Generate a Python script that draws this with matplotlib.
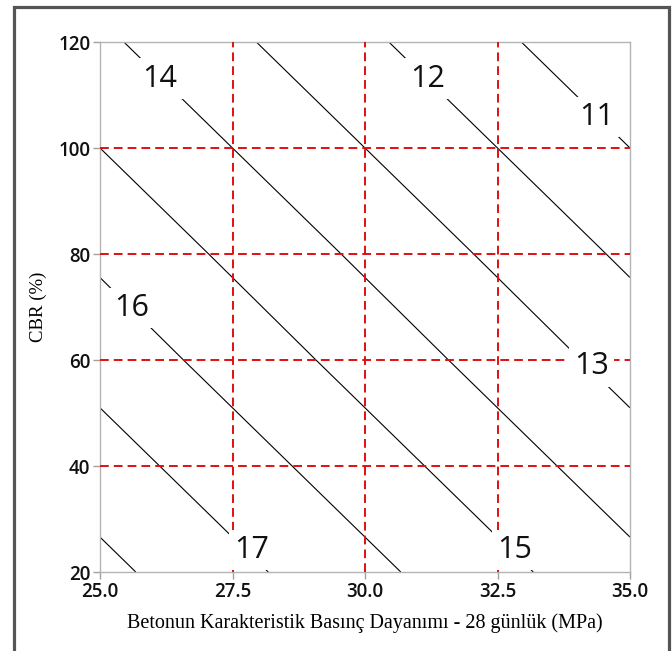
import matplotlib
matplotlib.use("Agg")
import matplotlib.pyplot as plt
import matplotlib.patches as patches
import numpy as np

# strength (MPa) and CBR (%) grid
strength = [25.0, 27.5, 30.0, 32.5, 35.0]
cbr = [20, 40, 60, 80, 100, 120]
thickness = [
    [18.27, 17.27, 16.27, 15.27, 14.27],
    [17.45, 16.45, 15.45, 14.45, 13.45],
    [16.63, 15.63, 14.63, 13.63, 12.63],
    [15.82, 14.82, 13.82, 12.82, 11.82],
    [15.00, 14.00, 13.00, 12.00, 11.00],
    [14.18, 13.18, 12.18, 11.18, 10.18],
]
levels = [11, 12, 13, 14, 15, 16, 17, 18]

labels = ["11", "12", "13", "14", "15", "16", "17"]
label_pos = [(34.37, 105.8), (31.18, 113.1), (34.27, 58.8), (26.13, 113.1),
             (32.83, 24.2), (25.6, 69.8), (27.86, 24.2)]

xticks = [25.0, 27.5, 30.0, 32.5, 35.0]
yticks = [20, 40, 60, 80, 100, 120]

fig = plt.figure(figsize=(6.72, 6.51), dpi=100)
ax = fig.add_axes([100 / 672, 79 / 651, 530 / 672, 530 / 651])

X, Y = np.meshgrid(strength, cbr)
ax.contour(X, Y, np.array(thickness), levels=levels, colors="black",
           linewidths=0.8, zorder=2)

for v in xticks[1:-1]:
    ax.axvline(v, color="#e01010", lw=1.4, ls=(0, (4.5, 2.6)), zorder=3)
for v in yticks[1:-1]:
    ax.axhline(v, color="#e01010", lw=1.4, ls=(0, (4.5, 2.6)), zorder=3)

for txt, (lx, ly) in zip(labels, label_pos):
    ax.text(lx, ly, txt, ha="center", va="center", fontsize=22,
            family="Open Sans", color="#111111", zorder=6,
            bbox=dict(boxstyle="square,pad=0.17", facecolor="white", edgecolor="none"))

ax.set_xlim(25, 35)
ax.set_ylim(20, 120)
ax.set_xticks(xticks)
ax.set_xticklabels(["%.1f" % v for v in xticks])
ax.set_yticks(yticks)
for s in ax.spines.values():
    s.set_color("#b4b4b4")
    s.set_linewidth(1.0)
ax.tick_params(length=5, width=1, color="#a0a0a0", pad=2)
for t in ax.get_xticklabels() + ax.get_yticklabels():
    t.set_family("Open Sans")
    t.set_fontweight("semibold")
    t.set_fontsize(13.5)
    t.set_color("#111111")

ax.set_xlabel("Betonun Karakteristik Basınç Dayanımı - 28 günlük (MPa)",
              family="Liberation Serif", fontsize=14.5, labelpad=8)
ax.set_ylabel("CBR (%)", family="Liberation Serif", fontsize=13.5, labelpad=8)

# outer frame, open at the bottom
frame = patches.Rectangle((13.5 / 672, -0.05), 655 / 672, 1.05 - 7.5 / 651,
                          transform=fig.transFigure, fill=False,
                          edgecolor="#555555", lw=2.3, clip_on=False)
fig.patches.append(frame)

fig.savefig("out.png", dpi=100)
